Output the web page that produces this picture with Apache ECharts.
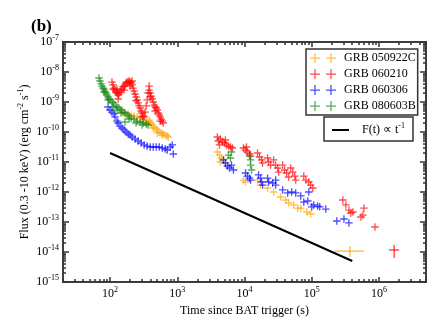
<!DOCTYPE html>
<html>
<head>
<meta charset="utf-8">
<script src="https://cdn.jsdelivr.net/npm/echarts@6/dist/echarts.min.js"></script>
<style>
  html, body { margin: 0; padding: 0; background: #fff; }
  #main { width: 443px; height: 332px; }
</style>
</head>
<body>
<div id="main"></div>
<script>
// light curves: [time (s), flux (erg cm^-2 s^-1)]
const grb050922c = [
  [151, 4.6e-10], [167, 4.3e-10], [186, 4.0e-10], [206, 3.7e-10], [228, 3.4e-10], [253, 3.2e-10],
  [281, 2.9e-10], [311, 2.7e-10], [333, 2.3e-10], [357, 2.15e-10], [382, 2.5e-10], [409, 1.85e-10],
  [439, 1.58e-10], [470, 1.36e-10], [504, 1.17e-10], [539, 1.0e-10], [578, 9.3e-11], [619, 8.6e-11],
  [663, 7.9e-11], [710, 7.4e-11], [735, 6.8e-11],
  [357, 1.85e-10], [396, 2.15e-10], [439, 1.36e-10], [504, 9.3e-11], [598, 7.9e-11],
  [3950, 2.15e-11], [4240, 1.7e-11], [4540, 1.36e-11], [4860, 1.17e-11], [5200, 9.3e-12], [4380, 1.0e-11],
  [9660, 2.5e-12], [10350, 2.15e-12], [15630, 2.5e-12], [17340, 1.7e-12], [22050, 1.36e-12],
  [27120, 1.0e-12], [34460, 6.8e-13], [40940, 5.4e-13], [45390, 4.3e-13], [53920, 3.7e-13],
  [61880, 2.9e-13], [68620, 2.9e-13], [84360, 2.15e-13], [96600, 1.85e-13]
];
const grb060210 = [
  [107, 4.6e-9], [111, 3.7e-9], [115, 2.9e-9], [119, 2.5e-9], [123, 2.15e-9], [127, 2.0e-9],
  [132, 1.7e-9], [136, 1.85e-9], [141, 2.15e-9], [146, 2.5e-9], [151, 2.7e-9], [156, 3.2e-9],
  [162, 3.4e-9], [167, 3.7e-9], [173, 4.3e-9], [179, 4.6e-9], [186, 4.6e-9], [192, 5.0e-9],
  [199, 4.6e-9], [206, 4.3e-9], [213, 3.7e-9], [220, 2.9e-9], [228, 2.3e-9], [236, 1.85e-9],
  [244, 1.47e-9], [253, 1.17e-9], [262, 9.3e-10], [271, 7.4e-10], [281, 6.3e-10], [290, 5.0e-10],
  [300, 4.3e-10], [311, 3.4e-10], [322, 3.2e-10], [333, 4.6e-10], [345, 7.4e-10], [357, 1.17e-9],
  [369, 2.0e-9], [382, 2.5e-9], [396, 2.0e-9], [409, 1.58e-9], [424, 1.26e-9], [439, 1.0e-9],
  [454, 7.9e-10], [470, 6.8e-10], [487, 6.3e-10], [504, 5.4e-10], [521, 4.3e-10], [539, 3.7e-10],
  [558, 3.2e-10], [578, 2.7e-10], [598, 2.3e-10], [619, 2.0e-10],
  [111, 2.7e-9], [132, 1.26e-9], [162, 2.5e-9], [199, 3.4e-9], [244, 1.1e-9], [300, 3.2e-10],
  [396, 1.47e-9], [470, 5.0e-10], [558, 2.3e-10], [127, 2.7e-9], [213, 5.0e-9], [382, 3.4e-9],
  [3950, 6.8e-11], [4090, 5.0e-11], [4380, 5.85e-11], [4690, 4.6e-11], [5030, 4.3e-11], [5380, 3.7e-11],
  [5770, 3.4e-11], [6180, 3.16e-11], [6620, 2.93e-11], [4240, 3.7e-11], [5200, 5.4e-11],
  [9660, 2.93e-11], [10350, 2.5e-11], [11090, 2.15e-11], [11880, 1.85e-11], [12300, 1.58e-11], [10700, 3.16e-11],
  [15630, 2.0e-11], [16750, 1.47e-11], [17950, 1.17e-11], [18570, 9.3e-12],
  [22050, 1.36e-11], [22830, 1.0e-11], [24460, 7.9e-12],
  [27120, 1.17e-11], [29060, 7.9e-12], [31130, 6.3e-12], [32210, 4.6e-12],
  [36920, 7.9e-12], [39550, 5.4e-12], [42370, 4.3e-12], [45390, 3.16e-12],
  [48620, 6.3e-12], [52090, 4.6e-12], [55800, 3.4e-12], [57760, 2.5e-12],
  [76070, 3.4e-12], [81500, 2.5e-12], [90370, 2.15e-12], [96600, 1.7e-12], [103500, 1.36e-12],
  [290000, 5.4e-13], [322000, 3.7e-13], [357000, 2.5e-13], [382000, 2.0e-13], [409000, 2.15e-13],
  [539000, 1.47e-13], [577000, 1.7e-13], [597000, 2.9e-13], [871000, 6.8e-14]
];
const grb060306 = [
  [93.4, 6.8e-10], [100, 5.4e-10], [107, 4.6e-10], [115, 4.0e-10], [119, 3.2e-10], [127, 2.3e-10],
  [132, 2.0e-10], [141, 1.58e-10], [151, 1.36e-10], [162, 1.17e-10], [173, 1.0e-10], [186, 8.6e-11],
  [199, 7.9e-11], [213, 6.8e-11], [236, 5.85e-11], [262, 5.0e-11], [290, 4.3e-11], [322, 3.7e-11],
  [357, 3.4e-11], [396, 3.16e-11], [439, 3.16e-11], [487, 3.16e-11], [539, 3.16e-11], [598, 2.93e-11],
  [663, 2.7e-11], [710, 2.5e-11], [788, 3.16e-11], [844, 3.7e-11], [873, 1.85e-11],
  [4860, 1.17e-11], [5200, 9.3e-12], [5570, 7.36e-12], [5970, 6.3e-12], [6400, 7.9e-12], [6850, 5.4e-12],
  [10350, 4.3e-12], [11090, 3.4e-12], [11880, 2.9e-12], [12300, 2.5e-12],
  [16180, 3.7e-12], [17340, 2.9e-12], [17950, 2.15e-12], [18570, 1.7e-12],
  [22050, 2.9e-12], [22830, 2.15e-12], [26200, 2.0e-12], [29060, 2.5e-12], [29060, 1.7e-12],
  [36920, 1.17e-12], [43860, 9.3e-13], [50330, 1.0e-12], [57760, 9.3e-13], [68620, 7.4e-13],
  [76070, 4.6e-13], [87310, 5.0e-13], [90370, 1.0e-12], [100000, 3.2e-13], [107100, 3.7e-13],
  [122700, 3.4e-13], [131500, 3.2e-13], [161800, 2.7e-13], [236000, 1.08e-13], [301000, 1.26e-13],
  [357000, 9.3e-14]
];
const grb080603b = [
  [68.5, 6.3e-9], [70.9, 5.0e-9], [73.4, 4.0e-9], [76, 3.4e-9], [78.6, 2.9e-9], [81.4, 2.7e-9],
  [84.2, 2.3e-9], [87.2, 2.0e-9], [90.2, 1.7e-9], [93.4, 1.47e-9], [96.6, 1.26e-9], [100, 1.17e-9],
  [107, 1.0e-9], [111, 9.3e-10], [119, 7.9e-10], [127, 6.8e-10], [136, 6.3e-10], [146, 5.4e-10],
  [156, 4.6e-10], [167, 4.3e-10], [179, 3.7e-10], [192, 3.4e-10], [206, 2.9e-10], [228, 2.7e-10],
  [253, 2.3e-10], [281, 2.15e-10], [311, 2.0e-10], [345, 1.85e-10], [369, 1.7e-10], [167, 2.15e-10],
  [81.4, 2.15e-9], [93.4, 1.17e-9], [111, 6.8e-10], [127, 5.4e-10], [146, 4.3e-10], [192, 2.7e-10],
  [244, 2.0e-10], [300, 1.7e-10],
  [5770, 1.7e-11], [6180, 1.36e-11], [6400, 2.15e-11], [11880, 1.58e-11], [12300, 1.17e-11],
  [12300, 7.9e-12], [12720, 5.4e-12]
];
// late points with wide error bars: [t, flux, tLow, tHigh, fluxLow, fluxHigh]
const grb050922cLate = [[369000, 1.07e-14, 220000, 600000, 6.9e-15, 1.6e-14]];
const grb060210Late = [[1680000, 1.17e-14, 1410000, 1990000, 6.3e-15, 1.7e-14]];
// reference power law
const lawT = [100, 400000];
const lawF = [2e-11, 5e-15];

const xMajor = [1e2, 1e3, 1e4, 1e5, 1e6];
const yMajor = [1e-15, 1e-14, 1e-13, 1e-12, 1e-11, 1e-10, 1e-9, 1e-8, 1e-7];

const font = 'Liberation Serif';
const frame = { color: '#333', width: 1.5 };
const cross = 'path://M0,3.3h8v1.4h-8z M3.3,0h1.4v8h-1.4z';
const crossPair = 'path://M0,4.4h10v1.3h-10z M4.35,0h1.3v10h-1.3z M16,4.4h10v1.3h-10z M20.35,0h1.3v10h-1.3z';

function minorOf (lo, hi) {
  const out = [];
  for (let e = lo; e < hi; e++) {
    for (let k = 2; k <= 9; k++) out.push(k * Math.pow(10, e));
  }
  return out;
}
const xMinor = minorOf(1, 7);
const yMinor = minorOf(-15, -7);

const powLabel = {
  formatter: v => '{b|10}{s|' + Math.round(Math.log10(v)) + '}',
  rich: {
    b: { fontFamily: font, fontSize: 12, color: '#000' },
    s: { fontFamily: font, fontSize: 8, color: '#000', padding: [0, 0, 8, 0] }
  }
}

function axis (pos, min, max, ticks, len, labels) {
  return {
    type: 'log',
    position: pos,
    min: min,
    max: max,
    axisLine: { show: true, onZero: false, lineStyle: frame },
    axisTick: { show: true, inside: true, length: len, customValues: ticks, lineStyle: frame },
    axisLabel: labels ? Object.assign({ customValues: ticks, margin: 4 }, powLabel) : { show: false },
    splitLine: { show: false },
    minorTick: { show: false }
  }
}

const xAxes = [
  axis('bottom', 20, 5e6, xMajor, 5, true),
  axis('bottom', 20, 5e6, xMinor, 3, false),
  axis('top', 20, 5e6, xMajor, 5, false),
  axis('top', 20, 5e6, xMinor, 3, false)
];
Object.assign(xAxes[0], {
  name: 'Time since BAT trigger (s)',
  nameLocation: 'middle',
  nameGap: 18,
  nameTextStyle: { fontFamily: font, fontSize: 12, color: '#000' }
});
const yAxes = [
  axis('left', 1e-15, 1e-7, yMajor, 6, true),
  axis('left', 1e-15, 1e-7, yMinor, 3, false),
  axis('right', 1e-15, 1e-7, yMajor, 6, false),
  axis('right', 1e-15, 1e-7, yMinor, 3, false)
];
Object.assign(yAxes[0], {
  name: 'Flux (0.3 -10 keV) (erg cm{s|-2} s{s|-1})',
  nameLocation: 'middle',
  nameGap: 30,
  nameMoveOverlap: false,
  nameTextStyle: {
    fontFamily: font, fontSize: 12, color: '#000',
    rich: { s: { fontFamily: font, fontSize: 8, color: '#000', padding: [0, 0, 8, 0] } }
  }
});

function renderErr (params, api) {
  const c = api.coord([api.value(0), api.value(1)]);
  const l = api.coord([api.value(2), api.value(1)]);
  const r = api.coord([api.value(3), api.value(1)]);
  const b = api.coord([api.value(0), api.value(4)]);
  const t = api.coord([api.value(0), api.value(5)]);
  const style = { stroke: api.visual('color'), lineWidth: 1.4, opacity: 0.75 };
  return {
    type: 'group',
    children: [
      { type: 'line', shape: { x1: l[0], y1: l[1], x2: r[0], y2: r[1] }, style: style },
      { type: 'line', shape: { x1: c[0], y1: b[1], x2: c[0], y2: t[1] }, style: style }
    ]
  };
}

function points (name, data, color) {
  return {
    name: name,
    type: 'scatter',
    data: data,
    symbol: cross,
    symbolSize: 7.5,
    itemStyle: { color: color, opacity: 0.7 },
    emphasis: { disabled: true }
  };
}
function bars (name, data, color) {
  return {
    name: name,
    type: 'custom',
    data: data,
    encode: { x: 0, y: 1 },
    renderItem: renderErr,
    itemStyle: { color: color }
  };
}

const lawName = 'F(t) \u221d t^-1';

const chart = echarts.init(document.getElementById('main'));
chart.setOption({
  animation: false,
  title: {
    text: '(b)',
    left: 26,
    top: 13,
    textStyle: { fontFamily: font, fontSize: 17, fontWeight: 'bold', color: '#000' }
  },
  grid: { left: 63, top: 42, right: 17, bottom: 50 },
  legend: [{
    data: ['GRB 050922C', 'GRB 060210', 'GRB 060306', 'GRB 080603B'],
    orient: 'vertical',
    left: 306,
    top: 49,
    padding: [3, 2, 3, 4],
    itemGap: 4,
    itemWidth: 26,
    itemHeight: 10,
    icon: crossPair,
    borderColor: '#333',
    borderWidth: 1.5,
    selectedMode: false,
    formatter: n => '{g|}' + n,
    textStyle: { fontFamily: font, fontSize: 12, color: '#000', rich: { g: { width: 3 } } }
  }, {
    data: [lawName],
    left: 324,
    top: 117,
    padding: [5, 8, 5, 8],
    itemWidth: 17,
    itemHeight: 2,
    icon: 'rect',
    borderColor: '#333',
    borderWidth: 1.5,
    selectedMode: false,
    formatter: () => '{g|}F(t) \u221d t{s|-1}',
    textStyle: {
      fontFamily: font, fontSize: 12, color: '#000',
      rich: {
        g: { width: 8 },
        s: { fontFamily: font, fontSize: 8, color: '#000', padding: [0, 0, 8, 0] }
      }
    }
  }],
  xAxis: xAxes,
  yAxis: yAxes,
  series: [
    {
      name: lawName,
      type: 'line',
      data: lawT.map((t, i) => [t, lawF[i]]),
      showSymbol: false,
      lineStyle: { color: '#000', width: 2 },
      itemStyle: { color: '#000' },
      emphasis: { disabled: true }
    },
    points('GRB 050922C', grb050922c, '#FFA500'),
    points('GRB 060210', grb060210, '#FF0000'),
    points('GRB 060306', grb060306, '#0000FF'),
    points('GRB 080603B', grb080603b, '#118811'),
    bars('GRB 050922C', grb050922cLate, '#FFA500'),
    bars('GRB 060210', grb060210Late, '#FF0000')
  ]
});
</script>
</body>
</html>
